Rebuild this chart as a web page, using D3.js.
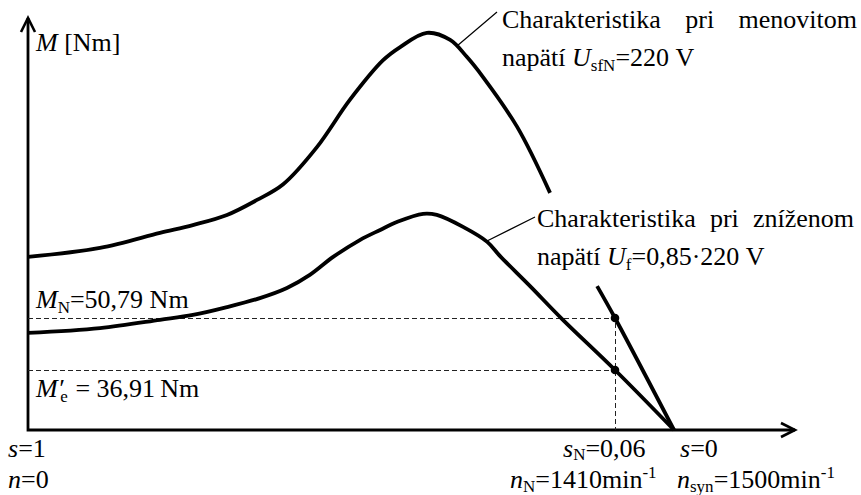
<!DOCTYPE html>
<html>
<head>
<meta charset="utf-8">
<script src="https://cdn.jsdelivr.net/npm/d3@7"></script>
<style>
  html, body { margin: 0; padding: 0; background: #fff; }
  svg { display: block; }
  svg text { font-family: "Liberation Serif", "DejaVu Serif", serif; }
</style>
</head>
<body>
<svg id="chart" width="861" height="495"></svg>
<script>
// Rated operating point of the motor
const nNominal = 1410;      // rated speed [min^-1]
const nSync = 1500;         // synchronous speed [min^-1]
const mNominal = 50.79;     // rated torque at U_sfN [Nm]
const mReduced = 36.91;     // torque at the rated speed with 0.85·U_sfN [Nm]
const voltageRated = 220;   // [V]
const voltageFactor = 0.85;

// Torque–speed characteristic at rated voltage (null = break for the label)
const speedUpper  = [0, 173, 317, 396, 478, 550, 613, 694, 773, 853, 894, 958, 1014, 1054, 1093, 1175, 1254, 1310, 1367, 1410, 1500];
const torqueUpper = [67.1, 69.5, 73.5, 75.6, 78.3, 82.3, 86.5, 96.4, 109.0, 119.6, 123.1, 126.9, 125.0, 120.5, 115.1, 101.8, 84.2, null, 59.3, 50.79, 0];

// Torque–speed characteristic at reduced voltage
const speedLower  = [0, 173, 317, 396, 478, 557, 622, 677, 733, 797, 846, 886, 949, 982, 1045, 1103, 1134, 1206, 1283, 1410, 1500];
const torqueLower = [46.8, 48.1, 50.3, 51.6, 53.7, 56.1, 58.8, 62.3, 67.1, 71.6, 74.3, 76.4, 78.6, 78.3, 75.1, 71.1, 67.3, 59.3, 50.5, 36.91, 0];

const svg = d3.select("#chart");
const FONT = "'Liberation Serif', 'DejaVu Serif', serif";
const FS = 26, FS_SMALL = 17;

// Schematic (piecewise) scales anchored at the labelled operating points
const x = d3.scaleLinear().domain([0, nNominal, nSync]).range([28, 615, 674]);
const y = d3.scaleLinear().domain([0, mReduced, mNominal]).range([430, 370, 318]);

const comma = v => String(v).replace(".", ",");
const fmt2 = v => d3.format(".2f")(v).replace(".", ",");
const slipN = (nSync - nNominal) / nSync;

// Axes with open arrow heads
const x0 = x(0), yb = y(0), yTop = 18, xEnd = 795;
svg.append("path")
  .attr("d", `M${x0},${yTop}L${x0},${yb}L${xEnd},${yb}`)
  .attr("fill", "none").attr("stroke", "#000").attr("stroke-width", 2.8)
  .attr("stroke-linejoin", "miter");
svg.append("path")
  .attr("d", `M${x0 - 7},${yTop + 14}L${x0},${yTop}L${x0 + 7},${yTop + 14}`)
  .attr("fill", "none").attr("stroke", "#000").attr("stroke-width", 2.6);
svg.append("path")
  .attr("d", `M${xEnd - 14},${yb - 7}L${xEnd},${yb}L${xEnd - 14},${yb + 7}`)
  .attr("fill", "none").attr("stroke", "#000").attr("stroke-width", 2.6);

// Dashed guide lines to the operating points
svg.append("path")
  .attr("d", `M${x0},${y(mNominal) + 0.5}H${x(nNominal) + 0.5}V${yb}M${x0},${y(mReduced) + 0.5}H${x(nNominal) + 0.5}`)
  .attr("fill", "none").attr("stroke", "#222").attr("stroke-width", 1)
  .attr("stroke-dasharray", "5,3");

// Characteristics
const line = d3.line()
  .defined(d => d[1] != null)
  .x(d => x(d[0])).y(d => y(d[1]))
  .curve(d3.curveCatmullRom.alpha(0.5));

[[speedUpper, torqueUpper], [speedLower, torqueLower]].forEach(([ns, ms]) => {
  svg.append("path")
    .attr("d", line(ns.map((n, i) => [n, ms[i]])))
    .attr("fill", "none").attr("stroke", "#000").attr("stroke-width", 3.8)
    .attr("stroke-linecap", "butt").attr("stroke-linejoin", "round");
});

// Operating points
[mNominal, mReduced].forEach(m => {
  svg.append("circle").attr("cx", x(nNominal)).attr("cy", y(m)).attr("r", 4.3).attr("fill", "#000");
});

// Rich text helper: italics, subscripts, superscripts
function rich(px, py, parts) {
  const t = svg.append("text").attr("x", px).attr("y", py)
    .attr("font-family", FONT).attr("font-size", FS).attr("fill", "#000");
  let shift = 0;
  parts.forEach(p => {
    const s = p.sub ? (p.shift != null ? p.shift : 5) : (p.sup ? -10 : 0);
    const ts = t.append("tspan").text(p.t).attr("dy", s - shift);
    if (p.i) ts.attr("font-style", "italic");
    if (p.sub || p.sup) ts.attr("font-size", FS_SMALL);
    if (p.dx) ts.attr("dx", p.dx);
    shift = s;
  });
  return t;
}

// Justified first line of a caption
function justified(px, py, str, right) {
  const t = svg.append("text").attr("x", px).attr("y", py)
    .attr("font-family", FONT).attr("font-size", FS).text(str);
  const gaps = (str.match(/ /g) || []).length;
  const len = t.node().getComputedTextLength();
  if (gaps) t.attr("word-spacing", Math.max(0, (right - px - len) / gaps));
  return t;
}

// Axis title
rich(36, 51, [{ t: "M", i: true }, { t: "\u00a0[Nm]" }]);

// Torque labels
rich(36, 308, [{ t: "M", i: true }, { t: "N", sub: true }, { t: "=" + fmt2(mNominal) + "\u00a0Nm" }]);
rich(36, 397, [{ t: "M\u2032", i: true }, { t: "e", sub: true, dx: -3 },
               { t: "\u00a0=\u00a0" + fmt2(mReduced) + "\u2009Nm", dx: 1 }]);

// Speed / slip labels
rich(8, 457, [{ t: "s", i: true }, { t: "=1" }]);
rich(8, 488, [{ t: "n", i: true }, { t: "=0" }]);
rich(563, 457, [{ t: "s", i: true }, { t: "N", sub: true, shift: 3 }, { t: "=" + comma(+slipN.toFixed(2)).padEnd(4, "0") }]);
rich(510, 488, [{ t: "n", i: true }, { t: "N", sub: true, shift: 4 }, { t: "=" + nNominal + "min" }, { t: "-1", sup: true }]);
rich(680, 457, [{ t: "s", i: true }, { t: "=0" }]);
rich(677, 488, [{ t: "n", i: true }, { t: "syn", sub: true, shift: 4 }, { t: "=" + nSync + "min" }, { t: "-1", sup: true }]);

// Captions with leader lines
svg.append("path").attr("d", "M457,46L497,12M487,241L535,217")
  .attr("fill", "none").attr("stroke", "#000").attr("stroke-width", 1.2);

justified(502, 28, "Charakteristika pri menovitom", 857);
rich(502, 66, [{ t: "napätí\u00a0" }, { t: "U", i: true }, { t: "sfN", sub: true }, { t: "=" + voltageRated + "\u00a0V" }]);

justified(537, 227, "Charakteristika pri zníženom", 854);
rich(537, 265, [{ t: "napätí\u00a0" }, { t: "U", i: true }, { t: "f", sub: true },
                { t: "=" + comma(voltageFactor) + "\u00b7" + voltageRated + "\u00a0V" }]);
</script>
</body>
</html>
